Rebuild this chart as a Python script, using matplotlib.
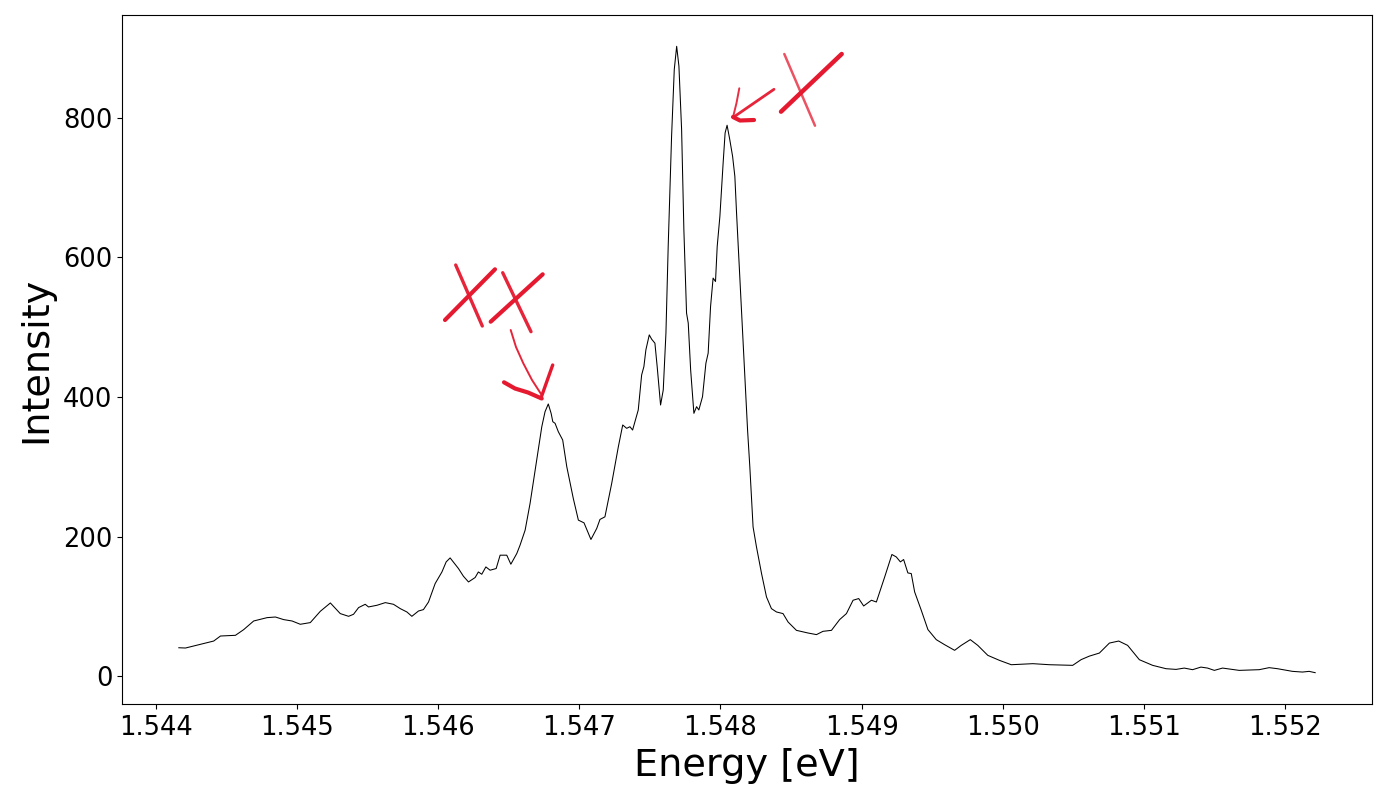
import numpy as np
import matplotlib
matplotlib.use("Agg")
import matplotlib.pyplot as plt
from matplotlib.lines import Line2D
from matplotlib.ticker import MultipleLocator, FormatStrFormatter

# spectrum
energy = [
    1.544165, 1.544212, 1.544318, 1.544412, 1.544460, 1.544566, 1.544624, 1.544695,
    1.544790, 1.544849, 1.544907, 1.544967, 1.545025, 1.545096, 1.545167, 1.545238,
    1.545308, 1.545367, 1.545402, 1.545438, 1.545485, 1.545508, 1.545568, 1.545627,
    1.545685, 1.545733, 1.545780, 1.545815, 1.545862, 1.545897, 1.545933, 1.545980,
    1.546028, 1.546058, 1.546086, 1.546145, 1.546180, 1.546216, 1.546263, 1.546286,
    1.546310, 1.546339, 1.546369, 1.546412, 1.546440, 1.546487, 1.546516, 1.546558,
    1.546581, 1.546617, 1.546652, 1.546699, 1.546735, 1.546758, 1.546781, 1.546801,
    1.546813, 1.546829, 1.546852, 1.546883, 1.546912, 1.546958, 1.546994, 1.547034,
    1.547083, 1.547124, 1.547147, 1.547182, 1.547230, 1.547277, 1.547308, 1.547336,
    1.547359, 1.547378, 1.547418, 1.547442, 1.547458, 1.547472, 1.547496, 1.547513,
    1.547536, 1.547552, 1.547576, 1.547595, 1.547614, 1.547630, 1.547654, 1.547673,
    1.547690, 1.547706, 1.547725, 1.547741, 1.547760, 1.547772, 1.547789, 1.547812,
    1.547831, 1.547847, 1.547873, 1.547897, 1.547913, 1.547930, 1.547948, 1.547965,
    1.547977, 1.547996, 1.548019, 1.548033, 1.548047, 1.548066, 1.548086, 1.548102,
    1.548114, 1.548132, 1.548156, 1.548178, 1.548192, 1.548208, 1.548231, 1.548255,
    1.548291, 1.548326, 1.548361, 1.548397, 1.548443, 1.548479, 1.548538, 1.548620,
    1.548680, 1.548726, 1.548786, 1.548844, 1.548892, 1.548939, 1.548979, 1.549014,
    1.549069, 1.549104, 1.549163, 1.549214, 1.549245, 1.549274, 1.549297, 1.549327,
    1.549351, 1.549375, 1.549422, 1.549469, 1.549528, 1.549587, 1.549658, 1.549705,
    1.549769, 1.549822, 1.549893, 1.549976, 1.550059, 1.550212, 1.550330, 1.550494,
    1.550554, 1.550612, 1.550683, 1.550754, 1.550820, 1.550883, 1.550966, 1.551060,
    1.551155, 1.551226, 1.551284, 1.551343, 1.551402, 1.551449, 1.551497, 1.551555,
    1.551673, 1.551815, 1.551885, 1.551944, 1.552050, 1.552121, 1.552168, 1.552211,
]
intensity = [
    41.0, 40.6, 45.9, 50.6, 57.8, 58.8, 66.9, 79.3,
    84.1, 85.0, 81.3, 79.3, 74.6, 77.0, 93.2, 105.1,
    89.9, 86.0, 88.9, 98.5, 103.2, 99.4, 101.8, 105.6,
    103.2, 97.0, 92.2, 86.0, 93.6, 95.6, 106.5, 132.9,
    149.5, 163.9, 169.6, 154.4, 143.4, 135.2, 141.5, 149.5,
    146.2, 156.7, 152.0, 154.4, 173.5, 173.5, 160.6, 175.9,
    187.8, 209.3, 247.6, 309.7, 357.4, 378.9, 390.0, 376.6,
    364.6, 362.3, 350.3, 338.4, 300.1, 254.8, 223.7, 219.8,
    196.0, 211.8, 224.7, 228.4, 276.3, 328.7, 359.9, 355.1,
    357.4, 352.7, 381.4, 431.5, 443.5, 467.4, 488.9, 482.7,
    477.0, 443.5, 388.5, 410.0, 491.3, 615.5, 773.2, 868.8,
    902.0, 873.5, 782.8, 639.4, 520.0, 505.7, 438.7, 376.6,
    386.1, 381.4, 400.4, 448.3, 462.7, 529.5, 570.2, 565.3,
    615.5, 658.5, 735.0, 778.0, 789.0, 768.5, 744.5, 715.8,
    663.4, 591.7, 496.1, 410.0, 352.7, 300.0, 214.0, 185.4,
    147.2, 113.7, 97.0, 92.2, 89.9, 77.8, 65.9, 62.1,
    59.8, 64.5, 65.9, 81.3, 89.9, 109.0, 111.4, 100.8,
    109.0, 106.5, 142.4, 174.5, 171.0, 163.9, 167.3, 148.1,
    147.2, 120.9, 94.6, 67.0, 52.6, 45.4, 37.3, 44.4,
    52.6, 44.4, 30.1, 22.9, 16.7, 18.2, 16.7, 15.8,
    24.0, 29.0, 33.4, 47.7, 50.6, 44.4, 23.9, 15.8,
    11.0, 10.0, 11.9, 9.6, 13.3, 11.9, 8.6, 11.9,
    8.6, 9.6, 12.5, 11.0, 7.2, 6.2, 7.2, 5.3,
]

W, H = 1388, 800
RED = '#e5192f'

# hand-drawn red marks, in picture pixels: (points, linewidth, alpha)
strokes = [
    # "XX"
    ([(455.7, 265), (482.3, 326)], 2.4, 0.95),
    ([(445, 320), (495, 269.3)], 3.0, 1.0),
    ([(502.7, 272.7), (531, 331.7)], 2.4, 0.95),
    ([(490.7, 321.7), (542.7, 274.3)], 3.0, 1.0),
    # its arrow
    ([(510.7, 330), (516, 347), (523.3, 363.3), (532, 380), (541.7, 395)], 1.4, 0.95),
    ([(504, 382.3), (515, 388.5), (528, 392.5), (541.7, 398.5)], 3.0, 1.0),
    ([(552.7, 365), (547, 381), (541.7, 396)], 2.4, 1.0),
    # "X"
    ([(784.3, 54), (815, 125.7)], 1.8, 0.75),
    ([(781, 111.7), (841.7, 54)], 3.2, 1.0),
    # its arrow
    ([(774, 89.3), (733.3, 117.3)], 2.0, 0.95),
    ([(739.3, 88.3), (736.5, 103), (733, 117.3)], 1.4, 0.9),
    ([(733, 117), (740, 120.5), (754, 120)], 3.0, 1.0),
]

fig = plt.figure(figsize=(W / 100, H / 100), dpi=100)
ax = fig.add_axes([122 / W, 1 - 704 / H, (1372 - 122) / W, (704 - 15) / H])

ax.plot(energy, intensity, color='black', linewidth=0.75)
ax.xaxis.set_major_locator(MultipleLocator(0.001))
ax.xaxis.set_major_formatter(FormatStrFormatter('%.3f'))
ax.yaxis.set_major_locator(MultipleLocator(200))
ax.tick_params(labelsize=18.5)
ax.tick_params(axis='x', pad=4.5)
ax.set_xlabel('Energy [eV]', fontsize=27.5, labelpad=5)
ax.set_ylabel('Intensity', fontsize=27.5, labelpad=6)

for pts, lw, a in strokes:
    xs = [p[0] / W for p in pts]
    ys = [1 - p[1] / H for p in pts]
    fig.add_artist(Line2D(xs, ys, transform=fig.transFigure, color=RED,
                          linewidth=lw, alpha=a, solid_capstyle='round',
                          solid_joinstyle='round'))

fig.savefig('out.png', dpi=100)
